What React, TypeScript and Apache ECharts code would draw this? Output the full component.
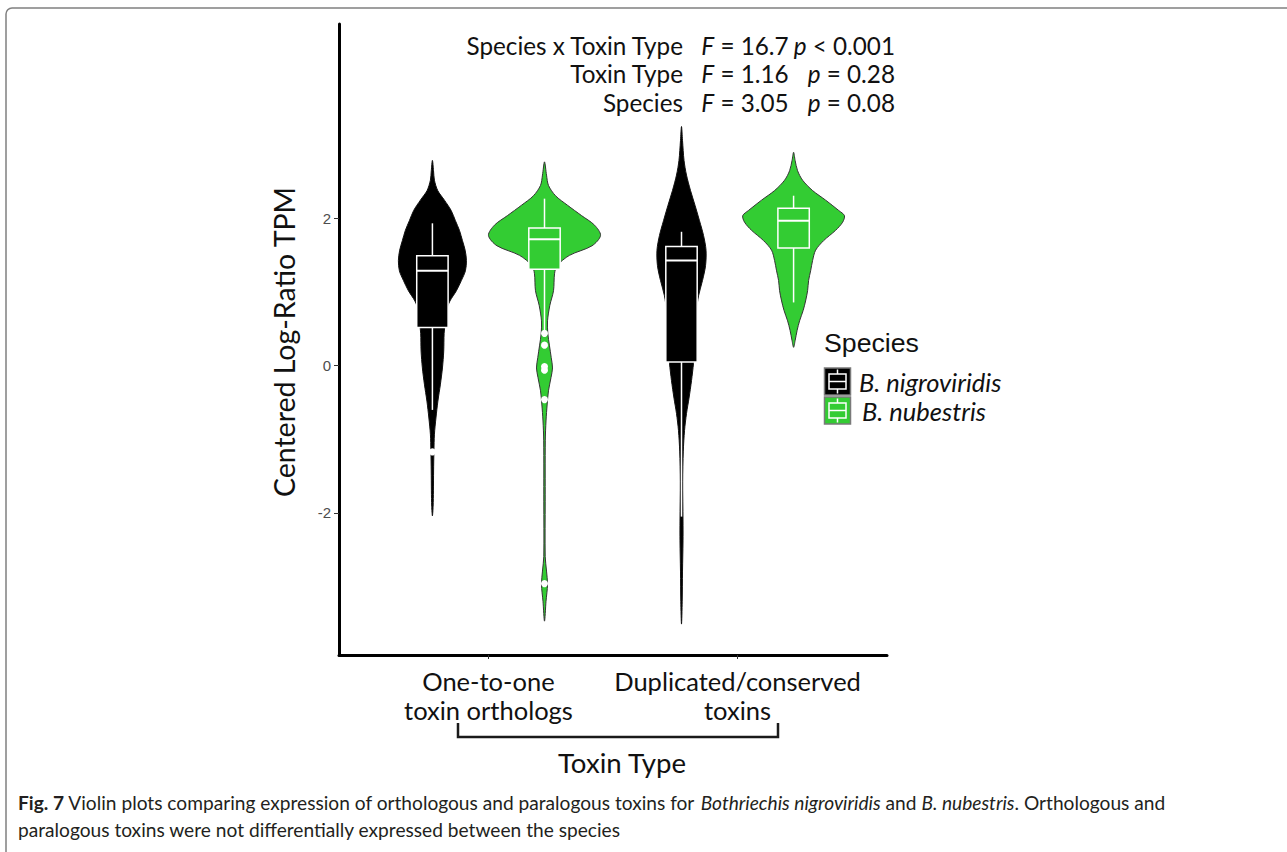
import React, { useEffect, useRef } from "react";
import * as echarts from "echarts";

// ---------- data ----------
const toxinTypes = ["One-to-one\ntoxin orthologs", "Duplicated/conserved\ntoxins"];
const speciesNames = ["B. nigroviridis", "B. nubestris"];
const speciesColors = ["#000000", "#33CC33"];
const yTicks = [-2, 0, 2];
const xTicks = [1, 2];

// violin profiles: [value, relative density (1 = widest violin)]
const violinNigOrtho = [
  [2.79, 0], [2.65, 0.02], [2.52, 0.036], [2.38, 0.095], [2.25, 0.214], [2.11, 0.334],
  [1.97, 0.411], [1.84, 0.482], [1.70, 0.536], [1.57, 0.584], [1.43, 0.607], [1.29, 0.589],
  [1.16, 0.518], [1.02, 0.429], [0.88, 0.313], [0.75, 0.25], [0.61, 0.232], [0.44, 0.209],
  [0.20, 0.202], [-0.03, 0.179], [-0.25, 0.143], [-0.48, 0.098], [-0.71, 0.063], [-0.93, 0.036],
  [-1.16, 0.027], [-1.43, 0.021], [-1.70, 0.018], [-1.91, 0.0125], [-2.04, 0],
];
const violinNubOrtho = [
  [2.77, 0], [2.59, 0.036], [2.45, 0.071], [2.31, 0.196], [2.18, 0.411], [2.04, 0.661],
  [1.91, 0.893], [1.77, 1.0], [1.63, 0.848], [1.50, 0.446], [1.36, 0.223], [1.25, 0.179],
  [1.02, 0.161], [0.82, 0.095], [0.61, 0.054], [0.44, 0.059], [0.27, 0.089], [0.11, 0.12],
  [-0.03, 0.143], [-0.16, 0.116], [-0.34, 0.071], [-0.52, 0.048], [-0.75, 0.027], [-1.02, 0.014],
  [-1.84, 0.0125], [-2.59, 0.0125], [-2.79, 0.036], [-2.97, 0.054], [-3.20, 0.027], [-3.47, 0],
];
const violinNigDup = [
  [3.25, 0], [3.06, 0.018], [2.79, 0.045], [2.59, 0.089], [2.38, 0.161], [2.18, 0.241],
  [1.97, 0.321], [1.77, 0.393], [1.57, 0.4375], [1.36, 0.429], [1.16, 0.375], [0.95, 0.304],
  [0.75, 0.268], [0.48, 0.25], [0.20, 0.232], [0.03, 0.214], [-0.20, 0.179], [-0.44, 0.134],
  [-0.65, 0.089], [-0.88, 0.054], [-1.16, 0.032], [-1.57, 0.021], [-2.11, 0.027], [-2.38, 0.027],
  [-2.79, 0.018], [-3.20, 0.0125], [-3.51, 0],
];
const violinNubDup = [
  [2.90, 0], [2.79, 0.027], [2.65, 0.071], [2.52, 0.161], [2.38, 0.339], [2.25, 0.571],
  [2.11, 0.804], [2.04, 0.907], [1.95, 0.875], [1.84, 0.75], [1.70, 0.536], [1.57, 0.393],
  [1.43, 0.339], [1.29, 0.304], [1.16, 0.268], [1.02, 0.25], [0.88, 0.214], [0.75, 0.17],
  [0.61, 0.107], [0.48, 0.0625], [0.34, 0.027], [0.25, 0],
];

// box stats: [lower whisker, Q1, median, Q3, upper whisker]
const boxNigOrtho = [-0.6, 0.52, 1.29, 1.495, 1.935];
const boxNubOrtho = [0.47, 1.31, 1.72, 1.87, 2.27];
const boxNigDup = [-2.05, 0.05, 1.43, 1.62, 1.82];
const boxNubDup = [0.86, 1.6, 1.97, 2.14, 2.31];

const outliersNigOrtho = [-1.17];
const outliersNubOrtho = [0.44, 0.28, -0.01, -0.06, -0.46, -2.96];
const outliersNigDup: number[] = [];
const outliersNubDup: number[] = [];

const statTerms = ["Species x Toxin Type", "Toxin Type", "Species"];
const statF = ["16.7", "1.16", "3.05"];
const statP = ["< 0.001", "= 0.28", "= 0.08"];

const captionLine2 = "paralogous toxins were not differentially expressed between the species";

// ---------- helpers ----------
const LATO = "Lato";
const HELV = "Liberation Sans";

function measure(text: string, family: string, size = 100, style = "normal", weight = "normal") {
  const ctx = document.createElement("canvas").getContext("2d")!;
  ctx.font = `${style} ${weight} ${size}px ${family}`;
  return ctx.measureText(text).width;
}
function fitSize(text: string, target: number, family: string, style = "normal", weight = "normal") {
  return (100 * target) / measure(text, family, 100, style, weight);
}

export default function App() {
  const ref = useRef<HTMLDivElement>(null);

  useEffect(() => {
    if (!ref.current) return;
    const chart = echarts.init(ref.current, undefined, { renderer: "svg" });

    const violins = [
      { g: 0, s: 0, profile: violinNigOrtho, box: boxNigOrtho, out: outliersNigOrtho },
      { g: 0, s: 1, profile: violinNubOrtho, box: boxNubOrtho, out: outliersNubOrtho },
      { g: 1, s: 0, profile: violinNigDup, box: boxNigDup, out: outliersNigDup },
      { g: 1, s: 1, profile: violinNubDup, box: boxNubDup, out: outliersNubDup },
    ];
    const dodge = 0.225;
    const maxHalf = 0.225;
    const boxHalf = 0.063;
    const xPos = (v: { g: number; s: number }) => xTicks[v.g] + (v.s === 0 ? -dodge : dodge);

    const outlierData: number[][] = [];
    violins.forEach((v) => v.out.forEach((o) => outlierData.push([xPos(v), o])));

    const yTitleSize = fitSize("Centered Log-Ratio TPM", 311, LATO);
    const xLabSize = 25.5;
    const xTitleSize = fitSize("Toxin Type", 129, LATO);
    const statSize = Math.min(25, fitSize("Species x Toxin Type", 218, LATO));
    const legTitleSize = fitSize("Species", 95, HELV);
    const legLabSize = Math.min(25.5, fitSize("B. nigroviridis", 163, LATO, "italic"));

    const capSize = 19;
    const capW =
      measure("Fig. 7", LATO, capSize, "normal", "bold") +
      measure(" Violin plots comparing expression of orthologous and paralogous toxins for ", LATO, capSize) +
      measure("Bothriechis nigroviridis", LATO, capSize, "italic") +
      measure(" and ", LATO, capSize) +
      measure("B. nubestris", LATO, capSize, "italic") +
      measure(". Orthologous and", LATO, capSize);
    const capScale = 1147 / capW;

    const statRowsY = [45, 73.5, 102];
    const statGraphics: any[] = [];
    statTerms.forEach((t, i) => {
      const y = statRowsY[i];
      statGraphics.push({
        type: "text", x: 683, y,
        style: { text: t, fontFamily: LATO, fontSize: statSize, fill: "#111", align: "right", verticalAlign: "middle" },
      });
      statGraphics.push({
        type: "text", x: 745, y,
        style: {
          text: `{i|F} = ${statF[i]}`, fontFamily: LATO, fontSize: statSize, fill: "#111",
          align: "center", verticalAlign: "middle",
          rich: { i: { fontStyle: "italic", fontFamily: LATO, fontSize: statSize, fill: "#111" } },
        },
      });
      statGraphics.push({
        type: "text", x: 895, y,
        style: {
          text: `{i|p} ${statP[i]}`, fontFamily: LATO, fontSize: statSize, fill: "#111",
          align: "right", verticalAlign: "middle",
          rich: { i: { fontStyle: "italic", fontFamily: LATO, fontSize: statSize, fill: "#111" } },
        },
      });
    });

    const legendKey = (y: number, color: string) => ({
      type: "group",
      children: [
        { type: "rect", shape: { x: 824.5, y, width: 26, height: 27 }, style: { fill: color, stroke: "#7a7a7a", lineWidth: 1.5 } },
        { type: "rect", shape: { x: 829, y: y + 6, width: 17, height: 15 }, style: { fill: "none", stroke: "#fff", lineWidth: 1.5 } },
        { type: "line", shape: { x1: 829, y1: y + 13.5, x2: 846, y2: y + 13.5 }, style: { stroke: "#fff", lineWidth: 1.5 } },
        { type: "line", shape: { x1: 837.5, y1: y + 1.5, x2: 837.5, y2: y + 6 }, style: { stroke: "#fff", lineWidth: 1.5 } },
        { type: "line", shape: { x1: 837.5, y1: y + 21, x2: 837.5, y2: y + 25.5 }, style: { stroke: "#fff", lineWidth: 1.5 } },
      ],
    });

    const option: any = {
      animation: false,
      backgroundColor: "#ffffff",
      grid: { left: 339, top: 24, right: 400, bottom: 197, containLabel: false },
      xAxis: {
        type: "value", min: 0.4, max: 2.6,
        axisLine: { show: true, onZero: false, lineStyle: { color: "#000", width: 3 } },
        axisTick: { show: true, customValues: xTicks, length: 4, lineStyle: { color: "#333", width: 1 } },
        axisLabel: {
          show: true, customValues: xTicks,
          formatter: (v: number) => toxinTypes[Math.round(v) - 1] || "",
          fontFamily: LATO, fontSize: xLabSize, lineHeight: 29, color: "#111", margin: 11, align: "center",
        },
        splitLine: { show: false },
      },
      yAxis: {
        type: "value", min: -3.93, max: 4.643,
        axisLine: { show: true, onZero: false, lineStyle: { color: "#000", width: 3 } },
        axisTick: { show: true, customValues: yTicks, length: 5, lineStyle: { color: "#333", width: 1 } },
        axisLabel: {
          show: true, customValues: yTicks, formatter: (v: number) => String(v),
          fontFamily: HELV, fontSize: 15, color: "#4d4d4d", margin: 8,
        },
        splitLine: { show: false },
      },
      series: [
        {
          type: "custom",
          z: 2,
          clip: false,
          data: violins.map((v) => [xPos(v), v.box[2]]),
          encode: { x: 0, y: 1 },
          renderItem: (params: any, api: any) => {
            const v = violins[params.dataIndex];
            const cx = api.value(0);
            const color = speciesColors[v.s];
            const right = v.profile.map(([y, d]) => api.coord([cx + d * maxHalf, y]));
            const left = v.profile.slice(1, -1).reverse().map(([y, d]) => api.coord([cx - d * maxHalf, y]));
            const pts = right.concat(left);
            const [lo, q1, med, q3, hi] = v.box;
            const c = (x: number, y: number) => api.coord([x, y]);
            const tl = c(cx - boxHalf, q3);
            const br = c(cx + boxHalf, q1);
            const mL = c(cx - boxHalf, med);
            const mR = c(cx + boxHalf, med);
            const hiP = c(cx, hi), q3P = c(cx, q3), q1P = c(cx, q1), loP = c(cx, lo);
            const wStyle = { stroke: "#ffffff", lineWidth: 1.5 };
            return {
              type: "group",
              children: [
                { type: "polygon", shape: { points: pts, smooth: 0.3 }, style: { fill: color, stroke: v.s === 0 ? "#111" : "#333", lineWidth: 1 } },
                { type: "line", shape: { x1: hiP[0], y1: hiP[1], x2: q3P[0], y2: q3P[1] }, style: wStyle },
                { type: "line", shape: { x1: q1P[0], y1: q1P[1], x2: loP[0], y2: loP[1] }, style: wStyle },
                { type: "rect", shape: { x: tl[0], y: tl[1], width: br[0] - tl[0], height: br[1] - tl[1] }, style: { fill: color, stroke: "#ffffff", lineWidth: 1.5 } },
                { type: "line", shape: { x1: mL[0], y1: mL[1], x2: mR[0], y2: mR[1] }, style: { stroke: "#ffffff", lineWidth: 2 } },
              ],
            };
          },
        },
        {
          type: "scatter",
          z: 3,
          data: outlierData,
          symbol: "circle",
          symbolSize: 7,
          itemStyle: { color: "#ffffff", borderWidth: 0, opacity: 1 },
          silent: true,
        },
      ],
      graphic: [
        { type: "rect", shape: { x: 6, y: 8, width: 1400, height: 1000, r: 6 }, style: { fill: "none", stroke: "#808080", lineWidth: 1.5 }, z: -1 },
        ...statGraphics,
        {
          type: "text", x: 284, y: 342, rotation: Math.PI / 2,
          style: { text: "Centered Log-Ratio TPM", fontFamily: LATO, fontSize: yTitleSize, fill: "#111", align: "center", verticalAlign: "middle" },
        },
        {
          type: "polyline",
          shape: { points: [[458, 723], [458, 737], [778, 737], [778, 723]] },
          style: { stroke: "#1a1a1a", lineWidth: 2.5, fill: "none" },
        },
        {
          type: "text", x: 622, y: 762,
          style: { text: "Toxin Type", fontFamily: LATO, fontSize: xTitleSize, fill: "#111", align: "center", verticalAlign: "middle" },
        },
        {
          type: "text", x: 824, y: 343,
          style: { text: "Species", fontFamily: HELV, fontSize: legTitleSize, fill: "#111", align: "left", verticalAlign: "middle" },
        },
        legendKey(368, speciesColors[0]),
        legendKey(397, speciesColors[1]),
        {
          type: "text", x: 859, y: 382,
          style: { text: speciesNames[0], fontFamily: LATO, fontStyle: "italic", fontSize: legLabSize, fill: "#111", align: "left", verticalAlign: "middle" },
        },
        {
          type: "text", x: 862, y: 411,
          style: { text: speciesNames[1], fontFamily: LATO, fontStyle: "italic", fontSize: legLabSize, fill: "#111", align: "left", verticalAlign: "middle" },
        },
        {
          type: "text", x: 18, y: 803, scaleX: capScale,
          style: {
            text: "{b|Fig. 7} Violin plots comparing expression of orthologous and paralogous toxins for {i|Bothriechis nigroviridis} and {i|B. nubestris}. Orthologous and",
            fontFamily: LATO, fontSize: capSize, fill: "#231f20", align: "left", verticalAlign: "middle",
            rich: {
              b: { fontWeight: "bold", fontFamily: LATO, fontSize: capSize, fill: "#231f20" },
              i: { fontStyle: "italic", fontFamily: LATO, fontSize: capSize, fill: "#231f20" },
            },
          },
        },
        {
          type: "text", x: 18, y: 830, scaleX: capScale,
          style: { text: captionLine2, fontFamily: LATO, fontSize: capSize, fill: "#231f20", align: "left", verticalAlign: "middle" },
        },
      ],
    };

    chart.setOption(option);
    return () => chart.dispose();
  }, []);

  return (
    <div
      ref={ref}
      style={{ position: "fixed", left: 0, top: 0, width: 1287, height: 852, background: "#fff" }}
    />
  );
}
